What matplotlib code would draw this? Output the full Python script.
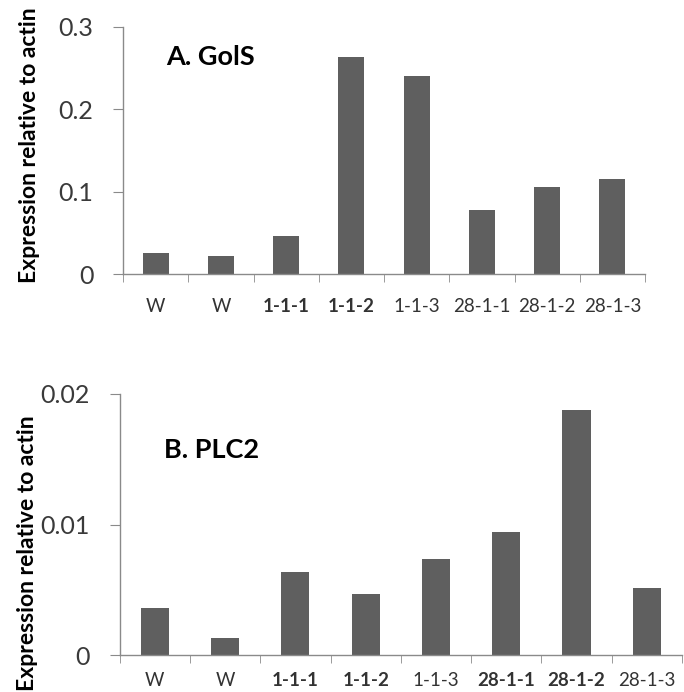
import matplotlib
matplotlib.use("Agg")
import matplotlib.pyplot as plt
import numpy as np

# sample names and qPCR values
LINES = ["W", "W", "1-1-1", "1-1-2", "1-1-3", "28-1-1", "28-1-2", "28-1-3"]
GOLS = [0.0255, 0.022, 0.046, 0.263, 0.240, 0.078, 0.106, 0.116]
PLC2 = [0.0036, 0.00136, 0.00636, 0.00469, 0.00736, 0.00944, 0.01874, 0.00513]
GOLS_TICKS = [0, 0.1, 0.2, 0.3]
GOLS_TICKLABELS = ["0", "0.1", "0.2", "0.3"]
PLC2_TICKS = [0, 0.01, 0.02]
PLC2_TICKLABELS = ["0", "0.01", "0.02"]
# scan makes some labels look heavier
GOLS_BOLD = ["1-1-1", "1-1-2"]
PLC2_BOLD = ["1-1-1", "1-1-2", "28-1-1", "28-1-2"]

FONT = ["Lato", "DejaVu Sans"]
BAR = "#5f5f5f"
AXIS = "#8a8a8a"

plt.rcParams["font.family"] = FONT


def draw_panel(ax, values, yticks, yticklabels, ymax, title, bold,
               title_pos, ylab_pos, xpad):
    x = np.arange(len(values))
    ax.bar(x, values, width=0.4, color=BAR, zorder=2)
    ax.set_xlim(-0.5, len(values) - 0.5)
    ax.set_ylim(0, ymax)

    for s in ["top", "right"]:
        ax.spines[s].set_visible(False)
    for s in ["left", "bottom"]:
        ax.spines[s].set_color(AXIS)
        ax.spines[s].set_linewidth(1.0)

    ax.set_yticks(yticks)
    ax.set_yticklabels(yticklabels, fontsize=18, color="#3a3a3a")
    ax.tick_params(axis="y", length=7.5, color=AXIS, pad=14)

    # category labels in the middle, tick marks between categories
    ax.set_xticks(x)
    ax.set_xticklabels(LINES, fontsize=13.5, color="#333333")
    for lab in ax.get_xticklabels():
        if lab.get_text() in bold:
            lab.set_fontweight("bold")
    ax.tick_params(axis="x", which="major", length=0, pad=xpad)
    ax.set_xticks(np.arange(len(values) + 1) - 0.5, minor=True)
    ax.tick_params(axis="x", which="minor", length=6, color=AXIS)

    ax.text(title_pos[0], title_pos[1], title, transform=ax.transAxes,
            fontsize=19.5, fontweight="bold", va="baseline", ha="left")
    ax.set_ylabel("Expression relative to actin", fontsize=16.5, fontweight="bold")
    ax.yaxis.set_label_coords(*ylab_pos)


fig = plt.figure(figsize=(6.84, 6.92), dpi=100)
ax1 = fig.add_axes([0.180, 0.604, 0.763, 0.357])
ax2 = fig.add_axes([0.175, 0.053, 0.822, 0.378])

draw_panel(ax1, GOLS, GOLS_TICKS, GOLS_TICKLABELS, 0.3, "A. GolS",
           GOLS_BOLD, (0.082, 0.846), (-0.159, 0.52), 17)
draw_panel(ax2, PLC2, PLC2_TICKS, PLC2_TICKLABELS, 0.02, "B. PLC2",
           PLC2_BOLD, (0.079, 0.755), (-0.146, 0.39), 12)

plt.savefig("out.png", dpi=100)
plt.close()
